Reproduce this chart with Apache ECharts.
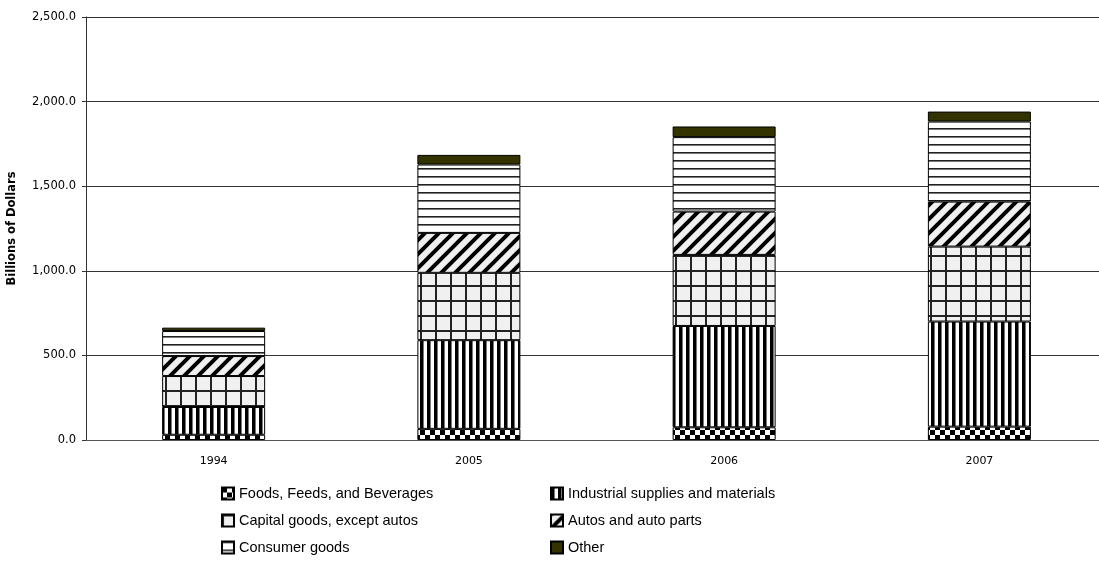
<!DOCTYPE html>
<html>
<head>
<meta charset="utf-8">
<script src="https://cdn.jsdelivr.net/npm/echarts@6/dist/echarts.min.js"></script>
<style>
html,body{margin:0;padding:0;background:#fff;}
#chart{width:1099px;height:563px;}
</style>
</head>
<body>
<div id="chart"></div>
<script>
// ---- data ----
const categories = ['1994', '2005', '2006', '2007'];
const seriesNames = [
  'Foods, Feeds, and Beverages',
  'Industrial supplies and materials',
  'Capital goods, except autos',
  'Autos and auto parts',
  'Consumer goods',
  'Other'
];
const foods      = [31, 66, 75, 79];
const industrial = [164, 524, 599, 621];
const capital    = [183, 398, 420, 443];
const autos      = [118, 236, 256, 266];
const consumer   = [148, 404, 440, 473];
const other      = [20, 57, 63, 59];
const yTicks = [0, 500, 1000, 1500, 2000, 2500];

// ---- patterns ----
function tile(w, h, draw) {
  const c = document.createElement('canvas');
  c.width = w; c.height = h;
  const g = c.getContext('2d');
  draw(g, w, h);
  return { image: c, repeat: 'repeat' };
}
const patFoods = tile(10, 10, (g) => {
  g.fillStyle = '#fff'; g.fillRect(0, 0, 10, 10);
  g.fillStyle = '#000'; g.fillRect(0, 0, 5, 5); g.fillRect(5, 5, 5, 5);
});
const patIndustrial = tile(7, 7, (g) => {
  g.fillStyle = '#fff'; g.fillRect(0, 0, 7, 7);
  g.fillStyle = '#000'; g.fillRect(0, 0, 3, 7);
  g.fillStyle = '#777'; g.fillRect(3, 0, 1, 7);
});
const patCapital = tile(15, 15, (g) => {
  g.fillStyle = '#f0f0f0'; g.fillRect(0, 0, 15, 15);
  g.fillStyle = '#222'; g.fillRect(0, 0, 2, 15); g.fillRect(0, 0, 15, 2);
});
const patAutos = tile(14, 14, (g) => {
  g.fillStyle = '#f0f0f0'; g.fillRect(0, 0, 14, 14);
  g.strokeStyle = '#000'; g.lineWidth = 4;
  g.beginPath();
  g.moveTo(-2, 16); g.lineTo(16, -2);
  g.moveTo(-9, 9); g.lineTo(9, -9);
  g.moveTo(5, 23); g.lineTo(23, 5);
  g.stroke();
});
const patConsumer = tile(8, 8, (g) => {
  g.fillStyle = '#fff'; g.fillRect(0, 0, 8, 8);
  g.fillStyle = '#222'; g.fillRect(0, 0, 8, 1);
  g.fillStyle = '#777'; g.fillRect(0, 1, 8, 1);
});
const fills = [patFoods, patIndustrial, patCapital, patAutos, patConsumer, '#333300'];
const values = [foods, industrial, capital, autos, consumer, other];

const FONT = 'DejaVu Sans';
const LFONT = 'Liberation Sans';

const chart = echarts.init(document.getElementById('chart'), null, { renderer: 'canvas' });
chart.setOption({
  backgroundColor: '#fff',
  animation: false,
  grid: { left: 86, top: 17, width: 1021, height: 423, containLabel: false, outerBoundsMode: 'none' },
  xAxis: {
    type: 'category',
    data: categories,
    axisLine: { show: true, lineStyle: { color: '#555', width: 1 } },
    axisTick: { show: false },
    axisLabel: { color: '#000', fontFamily: FONT, fontSize: 11, margin: 16 },
    splitLine: { show: false }
  },
  yAxis: {
    type: 'value',
    min: yTicks[0],
    max: yTicks[yTicks.length - 1],
    interval: 500,
    name: 'Billions of Dollars',
    nameLocation: 'middle',
    nameGap: 68,
    nameTextStyle: { color: '#000', fontFamily: FONT, fontSize: 11.5, fontWeight: 'bold' },
    axisLine: { show: true, lineStyle: { color: '#333', width: 1 } },
    axisTick: { show: true, length: 4, inside: false, lineStyle: { color: '#333' } },
    axisLabel: {
      color: '#000', fontFamily: FONT, fontSize: 11.5, margin: 10,
      formatter: (v) => v.toLocaleString('en-US', { minimumFractionDigits: 1, maximumFractionDigits: 1 })
    },
    splitLine: { show: true, lineStyle: { color: '#333', width: 1 } }
  },
  legend: [
    {
      data: [seriesNames[0], seriesNames[2], seriesNames[4]],
      orient: 'vertical', left: 221, top: 486, height: 120, padding: 0,
      itemWidth: 12, itemHeight: 12, itemGap: 12, icon: 'rect',
      textStyle: { color: '#000', fontFamily: LFONT, fontSize: 14.5 }
    },
    {
      data: [seriesNames[1], seriesNames[3], seriesNames[5]],
      orient: 'vertical', left: 550, top: 486, height: 120, padding: 0,
      itemWidth: 12, itemHeight: 12, itemGap: 12, icon: 'rect',
      textStyle: { color: '#000', fontFamily: LFONT, fontSize: 14.5 }
    }
  ],
  series: seriesNames.map((name, i) => ({
    name: name,
    type: 'bar',
    stack: 'total',
    barWidth: 103,
    data: values[i],
    itemStyle: { color: fills[i], borderColor: '#000', borderWidth: 1 },
    emphasis: { disabled: true }
  }))
});
</script>
</body>
</html>
